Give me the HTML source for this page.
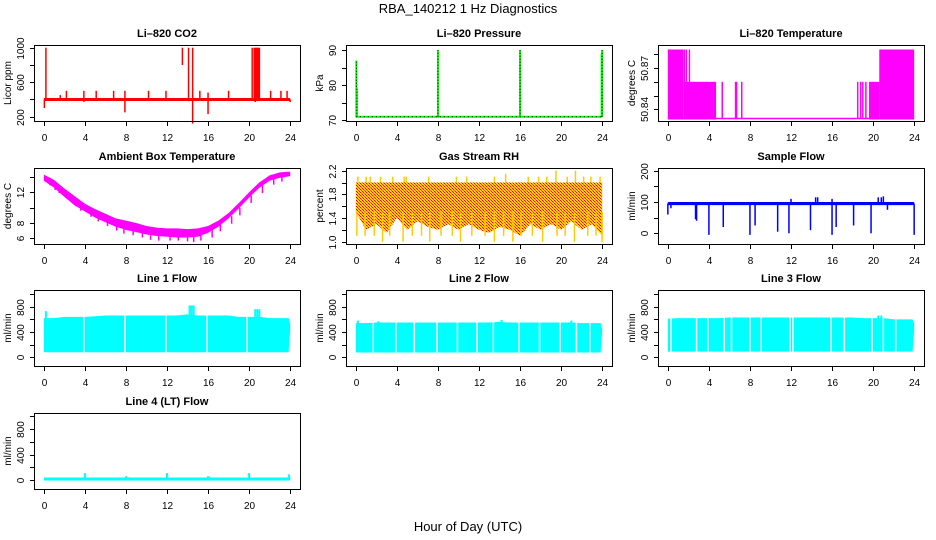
<!DOCTYPE html>
<html><head><meta charset="utf-8"><style>
html,body{margin:0;padding:0;background:#fff;}
svg{display:block;font-family:"Liberation Sans",sans-serif;}
</style></head><body>
<svg id="c" width="936" height="540" viewBox="0 0 936 540" xmlns="http://www.w3.org/2000/svg">
<defs>
<pattern id="rhpat" width="3" height="3" patternUnits="userSpaceOnUse">
<rect width="3" height="3" fill="#ffd000"/><rect x="0" y="0" width="1" height="1" fill="#f00"/><rect x="2" y="2" width="1" height="1" fill="#f00"/><rect x="1" y="1" width="1" height="1" fill="#f44"/>
</pattern>
</defs>
<text x="468" y="13" text-anchor="middle" font-size="13">RBA_140212  1 Hz Diagnostics</text>
<text x="468" y="531" text-anchor="middle" font-size="13">Hour of Day (UTC)</text>
</svg>
<script>
// ---------- data ----------
const xTicks=[0,4,8,12,16,20,24];
// CO2
const co2Base=400;
const co2SpikeX=[0.05,0.2,1.6,2.2,3.9,5.1,6.8,7.9,10.2,11.9,13.5,13.55,14.1,14.5,15.2,16.0,18.0,20.3,20.5,20.6,20.7,20.8,20.9,21.0,22.1,23.1,23.7,24.0];
const co2SpikeLo=[300,400,400,400,370,400,400,250,400,400,800,400,380,120,400,230,400,400,380,370,400,380,400,390,400,400,400,370];
const co2SpikeHi=[400,1000,450,500,500,500,500,500,500,500,1000,400,1000,1000,500,480,500,1000,1000,1000,1000,1000,1000,1000,500,500,500,400];
// Pressure
const presBase=71;
const presSpikeX=[0.05,0.1,8.0,16.0,23.95,24.0];
const presSpikeHi=[87,79,90,90,89,90];
// Li-820 temperature (step segments)
const tempBase=50.8333;
const tempSegStart=[0,1.5,4.3,19.6,20.6];
const tempSegEnd=[1.5,4.3,4.7,20.6,24];
const tempSegHi=[50.8835,50.86,50.86,50.86,50.8835];
const tempLineX=[1.6,1.8,2.1,5.3,6.6,6.7,7.2,18.5,18.8,19.0,19.3];
const tempLineHi=[50.8835,50.8835,50.8835,50.86,50.86,50.86,50.86,50.86,50.86,50.86,50.86];
// Ambient box temperature
const ambHours=[0,1,2,3,4,5,6,7,8,9,10,11,12,13,14,15,16,17,18,19,20,21,22,23,24];
const ambHi=[14.3,13.6,12.5,11.5,10.5,9.8,9.2,8.6,8.3,8.0,7.6,7.4,7.3,7.3,7.2,7.3,7.6,8.3,9.3,10.6,12.0,13.3,14.2,14.6,14.7];
const ambLo=[13.5,12.6,11.4,10.3,9.5,8.7,8.1,7.5,7.1,6.8,6.5,6.3,6.2,6.1,6.1,6.2,6.7,7.5,8.6,9.9,11.3,12.6,13.5,13.9,14.1];
const ambDipX=[0.6,1.1,1.5,2.4,3.1,3.6,4.6,5.3,6.2,7.1,7.8,8.7,9.6,10.4,11.2,12.3,13.1,14.0,14.6,15.3,16.4,17.2,18.3,19.1,20.2,21.3,22.4,23.2];
const ambDipLo=[12.9,12.3,11.9,11.0,10.2,9.6,8.8,8.2,7.6,7.0,6.6,6.4,6.1,5.8,5.7,5.7,5.7,5.6,5.5,5.7,6.1,6.9,7.9,9.0,10.6,11.9,13.0,13.4];
// Gas stream RH
const rhHours=[0,1,2,3,4,5,6,7,8,9,10,11,12,13,14,15,16,17,18,19,20,21,22,23,24];
const rhHi=[2.0,2.0,2.0,2.0,2.0,2.0,2.0,2.0,2.0,2.0,2.0,2.0,2.0,2.0,2.0,2.0,2.0,2.0,2.0,2.0,2.0,2.0,2.0,2.0,2.0];
const rhLo=[1.5,1.2,1.3,1.15,1.4,1.2,1.35,1.25,1.2,1.3,1.2,1.3,1.2,1.15,1.25,1.2,1.1,1.3,1.2,1.3,1.2,1.35,1.2,1.3,1.1];
const rhDipX=[0.1,0.9,1.8,2.6,3.3,4.6,5.5,6.4,7.2,8.3,9.4,10.2,11.3,12.6,13.5,14.4,15.3,16.1,17.2,18.2,19.6,20.4,21.3,22.6,23.4,24.0];
const rhDipLo=[1.1,1.1,1.1,1.0,1.1,1.0,1.1,1.1,1.0,1.1,1.1,1.0,1.1,1.1,1.0,1.1,1.0,1.1,1.1,1.0,1.1,1.1,1.0,1.1,1.1,1.0];
const rhSpikeX=[0.2,1.0,1.4,2.4,3.6,4.7,4.9,7.1,9.8,10.8,13.5,14.6,16.8,17.8,18.6,19.5,20.6,21.4,22.2,22.9,23.8];
const rhSpikeHi=[2.1,2.1,2.1,2.1,2.1,2.1,2.1,2.1,2.1,2.1,2.1,2.15,2.1,2.1,2.1,2.2,2.1,2.2,2.1,2.1,2.1];
// Sample flow
const sfBaseLo=90, sfBaseHi=100;
const sfDipX=[0.0,0.3,2.7,2.8,4.0,5.4,8.0,8.5,10.7,11.8,13.9,16.0,16.4,18.1,19.8,21.4,24.0];
const sfDipLo=[60,80,45,40,-5,20,-5,25,5,0,10,-5,20,25,0,75,-5];
const sfUpX=[12.0,14.4,14.6,16.0,20.5,20.8,21.0];
const sfUpHi=[110,115,115,110,115,115,118];
// Line flows
const l1Hours=[0,1,2,3,4,5,6,7,8,9,10,11,12,13,14,15,16,17,18,19,20,21,22,23,23.85,24];
const l1Hi=[620,620,640,640,640,650,660,660,660,660,660,660,660,660,680,660,660,660,660,640,640,640,620,620,620,530];
const l1Lo=[80,80,80,80,80,80,80,80,80,80,80,80,80,80,80,80,80,80,80,80,80,80,80,80,80,420];
const l1GapX=[3.9,7.9,11.9,15.9,19.8];
const l1SpikeX=[0.2,14.2,14.4,14.6,20.6,20.8,21.0];
const l1SpikeHi=[730,820,820,820,760,760,760];
const l2Hours=[0,1,2,3,4,5,6,7,8,9,10,11,12,13,14,15,16,17,18,19,20,21,22,23,23.85,24];
const l2Hi=[540,540,550,550,550,550,550,550,550,550,550,550,550,550,560,550,550,550,550,550,550,550,540,540,540,450];
const l2Lo=[75,75,75,75,75,75,75,75,75,75,75,75,75,75,75,75,75,75,75,75,75,75,75,75,75,390];
const l2GapX=[1.7,3.9,5.7,7.9,9.9,11.8,13.4,15.9,17.9,19.9,21.5,22.8];
const l2SpikeX=[0.2,2.2,14.2,21.0];
const l2SpikeHi=[580,570,590,580];
const l3Hours=[0,1,2,3,4,5,6,7,8,9,10,11,12,13,14,15,16,17,18,19,20,21,22,23,23.85,24];
const l3Hi=[610,620,620,620,620,620,630,630,630,630,630,630,630,630,630,630,630,630,630,620,620,620,600,600,600,540];
const l3Lo=[90,90,90,90,90,90,90,90,90,90,90,90,90,90,90,90,90,90,90,90,90,90,90,90,90,430];
const l3GapX=[0.3,2.8,3.9,5.5,6.2,8.0,9.1,11.9,12.2,15.9,17.2,19.9,21.0,22.2];
const l3SpikeX=[20.5,20.8];
const l3SpikeHi=[660,660];
const l4Base=15;
const l4SpikeX=[4.0,8.0,12.0,13.5,16.0,20.0,21.0,23.9];
const l4SpikeHi=[110,60,110,40,60,110,40,90];

// ---------- drawing ----------
const svg=document.getElementById('c');
const NS='http://www.w3.org/2000/svg';
function el(tag,attrs,parent){const e=document.createElementNS(NS,tag);for(const k in attrs)e.setAttribute(k,attrs[k]);(parent||svg).appendChild(e);return e;}
const colL=[34,346,658], rowT=[45,168,290,413], W=266, H=76;

function panel(name,col,row,title,ylab,cal,yTicks,yLabels){
  const g=el('g',{});
  
  
  const L=colL[col], T=rowT[row];
  const xs=h=>L+W*0.04/1.08+h*W/(24*1.08);
  const k=(cal[3]-cal[1])/(cal[2]-cal[0]);
  const ys=v=>T+cal[1]+(v-cal[0])*k;
  const t=el('text',{x:L+W/2,y:T-8,'text-anchor':'middle','font-size':11,'font-weight':'bold'},g);
  t.textContent=title;
  
  
  const marks=el('g',{},g);
  
  
  const ax=el('g',{stroke:'#000','stroke-width':1,fill:'none'},g);
  
  
  el('rect',{x:L+.5,y:T+.5,width:W,height:H},ax);
  el('line',{x1:xs(0),x2:xs(24),y1:T+H+.5,y2:T+H+.5},ax);
  xTicks.forEach(v=>{
    const x=Math.round(xs(v))+.5;
    el('line',{x1:x,x2:x,y1:T+H,y2:T+H+5},ax);
    const tx=el('text',{x:x,y:T+H+20,'text-anchor':'middle','font-size':10,stroke:'none',fill:'#000'},g);
    tx.textContent=v;
    
    
  });
  yTicks.forEach((v,i)=>{
    const y=Math.round(ys(v))+.5;
    el('line',{x1:L-4,x2:L,y1:y,y2:y},ax);
    if(yLabels[i]!==''){
      const tx=el('text',{x:0,y:0,'text-anchor':'middle','font-size':10,fill:'#000',transform:'translate('+(L-10)+','+y+') rotate(-90)'},g);
      tx.textContent=yLabels[i];
      
      
    }
  });
  const yt=el('text',{x:0,y:0,'text-anchor':'middle','font-size':10,fill:'#000',transform:'translate('+(L-23)+','+(T+H/2)+') rotate(-90)'},g);
  yt.textContent=ylab;
  
  
  return {g:marks,xs,ys};
}
function vline(p,x,y1,y2,color,w){el('line',{x1:p.xs(x),x2:p.xs(x),y1:p.ys(y1),y2:p.ys(y2),stroke:color,'stroke-width':w||1.2},p.g);}
function band(p,hours,hi,lo,fill){
  let pts=hours.map((h,i)=>p.xs(h)+','+p.ys(hi[i]));
  for(let i=hours.length-1;i>=0;i--)pts.push(p.xs(hours[i])+','+p.ys(lo[i]));
  el('polygon',{points:pts.join(' '),fill:fill},p.g);
}

// CO2
let p=panel('co2-panel',0,0,'Li\u2013820 CO2','Licor ppm',[1000,2.7,200,71.7],[200,400,600,800,1000],['200','','600','','1000']);
el('line',{x1:p.xs(0),x2:p.xs(24),y1:p.ys(co2Base),y2:p.ys(co2Base),stroke:'#f00','stroke-width':3},p.g);
co2SpikeX.forEach((x,i)=>vline(p,x,co2SpikeLo[i],co2SpikeHi[i],'#f00',1.5));

// Pressure
p=panel('pressure-panel',1,0,'Li\u2013820 Pressure','kPa',[90,5,70,75.3],[70,75,80,85,90],['70','','80','','90']);
el('line',{x1:p.xs(0),x2:p.xs(24),y1:p.ys(presBase),y2:p.ys(presBase),stroke:'#0f0','stroke-width':2},p.g);
el('line',{x1:p.xs(0),x2:p.xs(24),y1:p.ys(presBase),y2:p.ys(presBase),stroke:'#000','stroke-width':1,'stroke-dasharray':'1 3'},p.g);
presSpikeX.forEach((x,i)=>{vline(p,x,presBase,presSpikeHi[i],'#0f0',2);el('line',{x1:p.xs(x),x2:p.xs(x),y1:p.ys(presBase),y2:p.ys(presSpikeHi[i]),stroke:'#000','stroke-width':1,'stroke-dasharray':'1 2'},p.g);});

// Temperature
p=panel('li820-temp-panel',2,0,'Li\u2013820 Temperature','degrees C',[50.88,9.3,50.84,64.3],[50.84,50.85,50.86,50.87,50.88],['50.84','','','50.87','']);
el('line',{x1:p.xs(0),x2:p.xs(24),y1:p.ys(tempBase),y2:p.ys(tempBase),stroke:'#f0f','stroke-width':1.5},p.g);
tempSegStart.forEach((s,i)=>el('rect',{x:p.xs(s),y:p.ys(tempSegHi[i]),width:p.xs(tempSegEnd[i])-p.xs(s),height:p.ys(tempBase)-p.ys(tempSegHi[i])+1,fill:'#f0f'},p.g));
tempLineX.forEach((x,i)=>vline(p,x,tempBase,tempLineHi[i],'#f0f',1.5));

// Ambient
p=panel('ambient-temp-panel',0,1,'Ambient Box Temperature','degrees C',[12,24.3,6,70.3],[6,8,10,12,14],['6','8','','12','']);
band(p,ambHours,ambHi,ambLo,'#f0f');
ambDipX.forEach((x,i)=>vline(p,x,ambDipLo[i]+1,ambDipLo[i],'#f0f',1.5));

// RH
p=panel('rh-panel',1,1,'Gas Stream RH','percent',[2.2,2.7,1.0,73.7],[1.0,1.2,1.4,1.6,1.8,2.0,2.2],['1.0','','1.4','','1.8','','2.2']);
band(p,rhHours,rhHi,rhLo,'url(#rhpat)');
rhDipX.forEach((x,i)=>vline(p,x,rhDipLo[i],1.5,'#fc0',1.5));
rhSpikeX.forEach((x,i)=>vline(p,x,2.0,rhSpikeHi[i],'#fc0',1.5));

// Sample flow
p=panel('sample-flow-panel',2,1,'Sample Flow','ml/min',[200,2.7,0,65.3],[0,50,100,150,200],['0','','100','','200']);
el('rect',{x:p.xs(0),y:p.ys(sfBaseHi),width:p.xs(24)-p.xs(0),height:p.ys(sfBaseLo)-p.ys(sfBaseHi),fill:'#00f'},p.g);
sfDipX.forEach((x,i)=>vline(p,x,sfDipLo[i],95,'#00f',1.5));
sfUpX.forEach((x,i)=>vline(p,x,95,sfUpHi[i],'#00f',1.5));

function flowPanel(name,col,row,title,cal,hours,hi,lo,gaps,sx,shi){
  const q=panel(name,col,row,title,'ml/min',cal,[0,200,400,600,800,1000],['0','','400','','800','']);
  band(q,hours,hi,lo,'#0ff');
  gaps.forEach(x=>vline(q,x,lo[0]-5,hi[0]+40,'#fff',1.5));
  sx.forEach((x,i)=>vline(q,x,500,shi[i],'#0ff',2));
  return q;
}
flowPanel('line1-flow-panel',0,2,'Line 1 Flow',[800,16.7,0,67.3],l1Hours,l1Hi,l1Lo,l1GapX,l1SpikeX,l1SpikeHi);
flowPanel('line2-flow-panel',1,2,'Line 2 Flow',[800,16.7,0,67.3],l2Hours,l2Hi,l2Lo,l2GapX,l2SpikeX,l2SpikeHi);
flowPanel('line3-flow-panel',2,2,'Line 3 Flow',[800,16.7,0,67.3],l3Hours,l3Hi,l3Lo,l3GapX,l3SpikeX,l3SpikeHi);

p=panel('line4-flow-panel',0,3,'Line 4 (LT) Flow','ml/min',[800,16,0,67],[0,200,400,600,800,1000],['0','','400','','800','']);
el('line',{x1:p.xs(0),x2:p.xs(24),y1:p.ys(l4Base),y2:p.ys(l4Base),stroke:'#0ff','stroke-width':3},p.g);
l4SpikeX.forEach((x,i)=>vline(p,x,l4Base,l4SpikeHi[i],'#0ff',2));
</script>
</body></html>
